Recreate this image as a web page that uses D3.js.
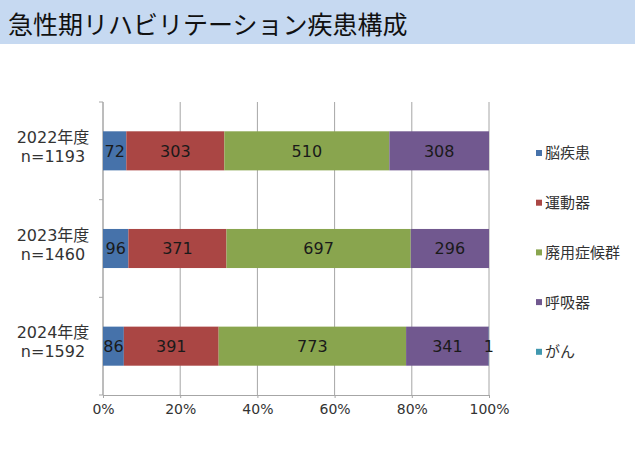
<!DOCTYPE html>
<html>
<head>
<meta charset="utf-8">
<script src="https://cdn.jsdelivr.net/npm/d3@7"></script>
<style>
  body { margin: 0; background: #fff; }
  svg { display: block; }
</style>
</head>
<body>
<svg id="chart" width="635" height="455"></svg>
<script>
// data
const years = ["2022年度", "2023年度", "2024年度"];
const totals = ["n=1193", "n=1460", "n=1592"];
const diseases = ["脳疾患", "運動器", "廃用症候群", "呼吸器", "がん"];
const brain = [72, 96, 86];
const motor = [303, 371, 391];
const disuse = [510, 697, 773];
const respiratory = [308, 296, 341];
const cancer = [0, 0, 1];
const xTicks = [0, 0.2, 0.4, 0.6, 0.8, 1];

const colors = ["#4672aa", "#aa4644", "#89a54e", "#71588f", "#4198af"];

const width = 635;
const height = 455;
const margin = { top: 102, right: 146, bottom: 60, left: 103 };

const svg = d3.select("#chart");
const font = "'Noto Sans CJK JP', 'Noto Sans', sans-serif";
// wider digits, CJK falls back to Noto
const numFont = "'DejaVu Sans', 'Noto Sans CJK JP', sans-serif";

// タイトル
svg.append("rect")
  .attr("x", 0).attr("y", 0)
  .attr("width", width).attr("height", 44)
  .attr("fill", "#c6d9f1");

svg.append("text")
  .attr("x", 8).attr("y", 34)
  .attr("font-family", font)
  .attr("font-size", 25)
  .attr("fill", "#111")
  .text("急性期リハビリテーション疾患構成");

// rows -> stacked percentages
const rows = years.map((y, i) => ({
  year: y,
  n: totals[i],
  "脳疾患": brain[i],
  "運動器": motor[i],
  "廃用症候群": disuse[i],
  "呼吸器": respiratory[i],
  "がん": cancer[i]
}));

const stack = d3.stack().keys(diseases).offset(d3.stackOffsetExpand);
const series = stack(rows);

const xScale = d3.scaleLinear().domain([0, 1]).range([margin.left, width - margin.right]);
const yScale = d3.scaleBand().domain(years)
  .range([margin.top, height - margin.bottom])
  .paddingInner(0.6).paddingOuter(0.3);

// grid
svg.append("g")
  .selectAll("line")
  .data(xTicks)
  .join("line")
  .attr("x1", d => xScale(d)).attr("x2", d => xScale(d))
  .attr("y1", margin.top).attr("y2", height - margin.bottom)
  .attr("stroke", "#a6a6a6")
  .attr("stroke-width", 1);

// bottom axis
const xAxis = svg.append("g")
  .attr("transform", `translate(0, ${height - margin.bottom})`)
  .call(d3.axisBottom(xScale).tickValues(xTicks).tickFormat(d3.format(".0%")).tickSize(3).tickPadding(6));
xAxis.select(".domain").attr("stroke", "#a6a6a6");
xAxis.selectAll(".tick line").attr("stroke", "#a6a6a6");
xAxis.selectAll("text")
  .attr("font-family", numFont)
  .attr("font-size", 14)
  .attr("fill", "#333");

// left axis line + boundary ticks
svg.append("line")
  .attr("x1", margin.left).attr("x2", margin.left)
  .attr("y1", margin.top).attr("y2", height - margin.bottom)
  .attr("stroke", "#a6a6a6");

const step = yScale.step();
const bounds = d3.range(years.length + 1).map(i => margin.top + i * step);
svg.append("g")
  .selectAll("line")
  .data(bounds)
  .join("line")
  .attr("x1", margin.left - 4).attr("x2", margin.left)
  .attr("y1", d => d).attr("y2", d => d)
  .attr("stroke", "#a6a6a6");

// bars
const layers = svg.append("g")
  .selectAll("g")
  .data(series)
  .join("g")
  .attr("fill", (d, i) => colors[i]);

layers.selectAll("rect")
  .data(d => d)
  .join("rect")
  .attr("x", d => xScale(d[0]))
  .attr("y", d => yScale(d.data.year))
  .attr("width", d => xScale(d[1]) - xScale(d[0]))
  .attr("height", yScale.bandwidth());

// data labels
svg.append("g")
  .selectAll("g")
  .data(series)
  .join("g")
  .selectAll("text")
  .data(d => d.map(v => ({ v, key: d.key })).filter(o => o.v.data[o.key] > 0))
  .join("text")
  .attr("x", o => (xScale(o.v[0]) + xScale(o.v[1])) / 2)
  .attr("y", o => yScale(o.v.data.year) + yScale.bandwidth() / 2)
  .attr("dy", "0.36em")
  .attr("text-anchor", "middle")
  .attr("font-family", numFont)
  .attr("font-size", 16)
  .attr("fill", "#1a1a1a")
  .text(o => o.v.data[o.key]);

// category labels
const cat = svg.append("g")
  .selectAll("text")
  .data(rows)
  .join("text")
  .attr("text-anchor", "middle")
  .attr("font-family", numFont)
  .attr("font-size", 16)
  .attr("fill", "#333");

cat.append("tspan")
  .attr("x", 53)
  .attr("y", d => yScale(d.year) + yScale.bandwidth() / 2 - 8)
  .text(d => d.year);
cat.append("tspan")
  .attr("x", 53)
  .attr("y", d => yScale(d.year) + yScale.bandwidth() / 2 + 11)
  .text(d => d.n);

// legend
const legend = svg.append("g")
  .selectAll("g")
  .data(diseases)
  .join("g")
  .attr("transform", (d, i) => `translate(536, ${153 + i * 49.7})`);

legend.append("rect")
  .attr("x", 0).attr("y", -3)
  .attr("width", 6).attr("height", 6)
  .attr("fill", (d, i) => colors[i]);

legend.append("text")
  .attr("x", 9)
  .attr("dy", "0.36em")
  .attr("font-family", font)
  .attr("font-size", 15)
  .attr("fill", "#333")
  .text(d => d);
</script>
</body>
</html>
